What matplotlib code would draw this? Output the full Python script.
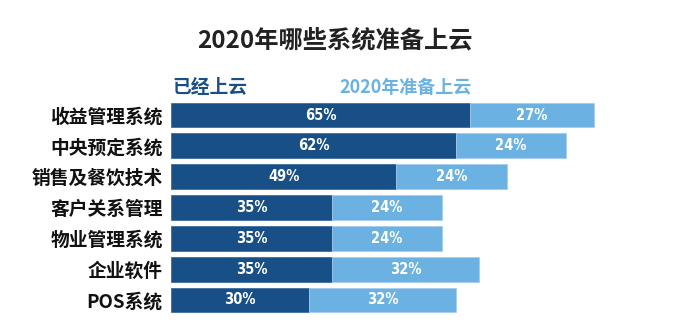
import matplotlib.pyplot as plt
import numpy as np

plt.rcParams['font.family'] = ['Noto Sans CJK SC', 'DejaVu Sans']

# Data
categories = ['收益管理系统', '中央预定系统', '销售及餐饮技术', '客户关系管理',
              '物业管理系统', '企业软件', 'POS系统']
already_cloud = [65, 62, 49, 35, 35, 35, 30]
plan_2020 = [27, 24, 24, 24, 24, 32, 32]

dark = '#174f86'
light = '#6bb2e2'

fig = plt.figure(figsize=(6.77, 3.29), dpi=100, facecolor='white')
ax = fig.add_axes([0.2526, 0.0413, 0.679, 0.656])

y = np.arange(len(categories))
h = 0.81
b1 = ax.barh(y, already_cloud, height=h, color=dark, edgecolor='#3f6f9f', linewidth=0.6)
b2 = ax.barh(y, plan_2020, left=already_cloud, height=h, color=light,
             edgecolor='#a5cdee', linewidth=0.6)

# condensed bold numbers inside the bars
for bars in (b1, b2):
    for bar in bars:
        w = bar.get_width()
        ax.text(bar.get_x() + w / 2, bar.get_y() + bar.get_height() / 2,
                f'{int(w)}%', ha='center', va='center', color='white',
                fontsize=10.5, fontweight='bold', family='DejaVu Sans',
                fontstretch='condensed')

ax.set_xlim(0, 100)
ax.set_ylim(len(categories) - 0.5, -0.5)
ax.set_yticks(y)
ax.set_yticklabels(categories, fontsize=13.5, fontweight='heavy', color='#111111')
ax.tick_params(axis='y', length=0, pad=6)
ax.set_xticks([])
for s in ax.spines.values():
    s.set_visible(False)

fig.text(0.495, 0.878, '2020年哪些系统准备上云', ha='center', va='center',
         fontsize=17.5, fontweight='heavy', color='#222222')
fig.text(0.255, 0.733, '已经上云', ha='left', va='center', fontsize=13.5,
         fontweight='heavy', color=dark)
fig.text(0.502, 0.733, '2020年准备上云', ha='left', va='center', fontsize=13,
         fontweight='heavy', color=light)

fig.savefig('out.png', dpi=100, facecolor='white')
